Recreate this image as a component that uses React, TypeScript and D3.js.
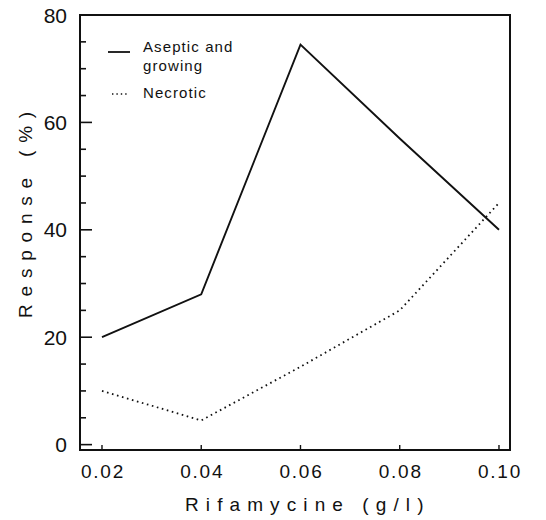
import * as d3 from 'd3';
import React, { useRef, useEffect } from 'react';

// rifamycine doses (g/l) and the two response curves (%)
const doses = [0.02, 0.04, 0.06, 0.08, 0.10];
const aseptic = [20, 28, 74.5, 57, 40];
const necrotic = [10, 4.5, 14.5, 25, 45];
const yMajor = [0, 20, 40, 60, 80];
const yMinor = [5, 10, 15, 25, 30, 35, 45, 50, 55, 65, 70, 75];

const W = 546;
const H = 520;
const font = "'Liberation Sans', Arial, Helvetica, sans-serif";

function Chart() {
    const ref = useRef<SVGSVGElement>(null);

    useEffect(() => {
        const svg = d3.select(ref.current);
        svg.selectAll('*').remove();

        const x = d3.scaleLinear().domain([0.01557, 0.10222]).range([80, 510]);
        const y = d3.scaleLinear().domain([-1, 80]).range([450, 15]);

        const [x0, x1] = x.range();
        const [yb, yt] = y.range();

        // frame
        svg.append('rect')
            .attr('x', x0).attr('y', yt)
            .attr('width', x1 - x0).attr('height', yb - yt)
            .attr('fill', 'none').attr('stroke', '#111').attr('stroke-width', 2);

        // y ticks, pointing inwards
        svg.selectAll('.ymaj').data(yMajor.filter(v => v < 80)).join('line')
            .attr('x1', x0).attr('x2', x0 + 12)
            .attr('y1', d => y(d)).attr('y2', d => y(d))
            .attr('stroke', '#111').attr('stroke-width', 1.6);
        svg.selectAll('.ymin').data(yMinor).join('line')
            .attr('x1', x0).attr('x2', x0 + 6)
            .attr('y1', d => y(d)).attr('y2', d => y(d))
            .attr('stroke', '#111').attr('stroke-width', 1.6);

        svg.append('g').selectAll('text').data(yMajor).join('text')
            .attr('x', x0 - 13).attr('y', d => y(d))
            .attr('dy', '0.36em')
            .attr('text-anchor', 'end')
            .attr('font-family', font).attr('font-size', 21)
            .attr('fill', '#111')
            .text(d => d);

        // x ticks
        svg.selectAll('.xt').data(doses).join('line')
            .attr('x1', d => x(d)).attr('x2', d => x(d))
            .attr('y1', yb).attr('y2', yb - 5)
            .attr('stroke', '#111').attr('stroke-width', 1.4);

        svg.append('g').selectAll('text').data(doses).join('text')
            .attr('x', d => x(d) + 1).attr('y', 478)
            .attr('text-anchor', 'middle')
            .attr('font-family', font).attr('font-size', 19)
            .attr('letter-spacing', 1.8)
            .attr('fill', '#111')
            .text(d => d3.format('.2f')(d));

        // axis titles
        svg.append('text')
            .attr('x', 185).attr('y', 511)
            .attr('font-family', font).attr('font-size', 19)
            .attr('letter-spacing', 7.1)
            .attr('fill', '#111')
            .text('Rifamycine (g/l)');

        svg.append('text')
            .attr('transform', 'translate(32,318) rotate(-90)')
            .attr('font-family', font).attr('font-size', 19)
            .attr('letter-spacing', 7.8)
            .attr('fill', '#111')
            .text('Response (%)');

        const line = d3.line<number>()
            .x((v, i) => x(doses[i]))
            .y(v => y(v));

        svg.append('path')
            .attr('d', line(aseptic))
            .attr('fill', 'none').attr('stroke', '#111').attr('stroke-width', 1.9)
            .attr('stroke-linejoin', 'miter');

        svg.append('path')
            .attr('d', line(necrotic))
            .attr('fill', 'none').attr('stroke', '#111').attr('stroke-width', 1.8)
            .attr('stroke-dasharray', '1.6,3.6');

        // legend
        const lg = svg.append('g').attr('font-family', font).attr('font-size', 15)
            .attr('letter-spacing', 1.1).attr('fill', '#111');
        lg.append('line').attr('x1', 108).attr('x2', 130).attr('y1', 52).attr('y2', 52)
            .attr('stroke', '#111').attr('stroke-width', 1.8);
        lg.append('text').attr('x', 143).attr('y', 52).text('Aseptic and');
        lg.append('text').attr('x', 143).attr('y', 71).text('growing');
        lg.append('line').attr('x1', 112).attr('x2', 127).attr('y1', 94).attr('y2', 94)
            .attr('stroke', '#111').attr('stroke-width', 1.4).attr('stroke-dasharray', '1.4,3');
        lg.append('text').attr('x', 143).attr('y', 98).text('Necrotic');
    }, []);

    return (
        <svg ref={ref} width={W} height={H}
            style={{ position: 'absolute', left: 0, top: 0, background: '#fff' }} />
    );
}

export default function App() {
    return <Chart />;
}
